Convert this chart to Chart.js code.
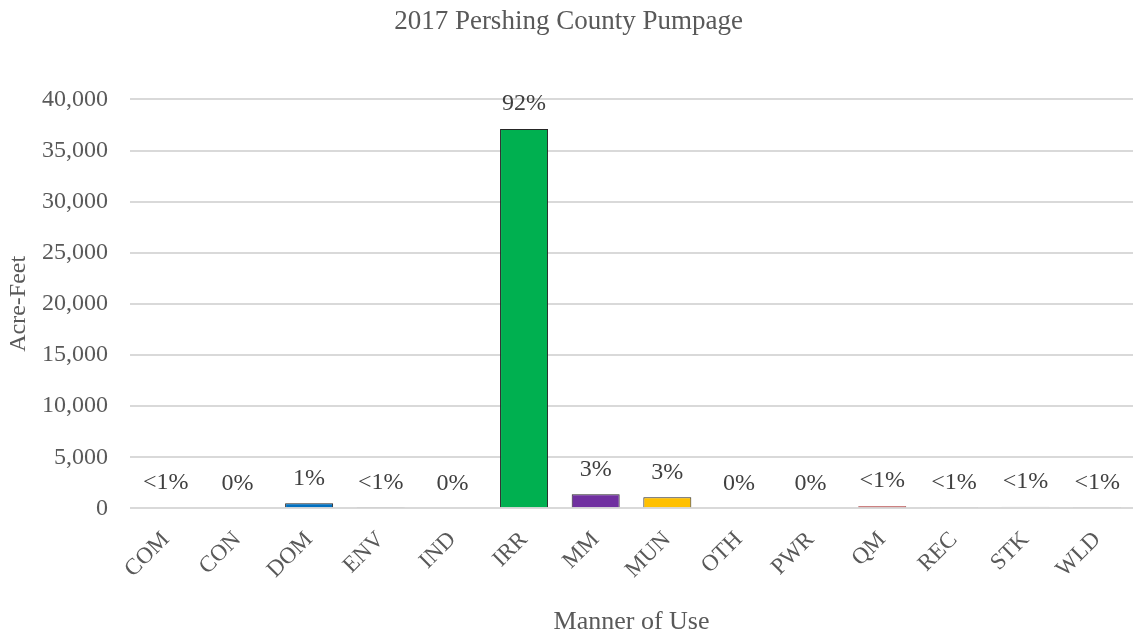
<!DOCTYPE html>
<html>
<head>
<meta charset="utf-8">
<script src="https://cdn.jsdelivr.net/npm/chart.js@4.4.0/dist/chart.umd.min.js"></script>
<style>
  html, body { margin: 0; padding: 0; background: #fff; }
  #wrap { width: 1133px; height: 637px; }
</style>
</head>
<body>
<div id="wrap"><canvas id="pumpChart" width="1133" height="637"></canvas></div>
<script>
// categories (manner of use)
const uses = ['COM', 'CON', 'DOM', 'ENV', 'IND', 'IRR', 'MM', 'MUN', 'OTH', 'PWR', 'QM', 'REC', 'STK', 'WLD'];
// acre-feet
const acreFeet = [110, 0, 500, 60, 0, 37100, 1380, 1080, 0, 0, 210, 50, 150, 60];
// share labels shown above each bar
const shareLabels = ['<1%', '0%', '1%', '<1%', '0%', '92%', '3%', '3%', '0%', '0%', '<1%', '<1%', '<1%', '<1%'];
const yTicks = [0, 5000, 10000, 15000, 20000, 25000, 30000, 35000, 40000];

const barColors = ['#d9d9d9', '#d9d9d9', '#0070c0', '#bfbfbf', '#d9d9d9', '#00b050', '#7030a0', '#ffc000', '#d9d9d9', '#d9d9d9', '#c00000', '#d9d9d9', '#d9d9d9', '#d9d9d9'];
const edgeColors = ['#bfbfbf', '#bfbfbf', '#262626', '#bfbfbf', '#bfbfbf', '#262626', '#262626', '#262626', '#bfbfbf', '#bfbfbf', '#7f0000', '#bfbfbf', '#bfbfbf', '#bfbfbf'];

const FONT = '"Liberation Serif", "Times New Roman", serif';
const TXT = '#595959';

// draws the percentage text above every bar
const shareLabelPlugin = {
    id: 'shareLabels',
    afterDatasetsDraw(chart) {
        const ctx = chart.ctx;
        const meta = chart.getDatasetMeta(0);
        ctx.save();
        ctx.font = '24px ' + FONT;
        ctx.fillStyle = '#404040';
        ctx.textAlign = 'center';
        ctx.textBaseline = 'middle';
        meta.data.forEach((bar, i) => {
            ctx.fillText(shareLabels[i], bar.x, bar.y - 25);
        });
        ctx.restore();
    }
};

new Chart(document.getElementById('pumpChart').getContext('2d'), {
    type: 'bar',
    data: {
        labels: uses,
        datasets: [{
            data: acreFeet,
            backgroundColor: barColors,
            borderColor: edgeColors,
            borderWidth: 1,
            barPercentage: 0.67,
            categoryPercentage: 1.0
        }]
    },
    options: {
        responsive: false,
        animation: false,
        layout: { padding: { top: 6, right: 0, left: 4, bottom: -5 } },
        plugins: {
            legend: { display: false },
            tooltip: { enabled: false },
            title: {
                display: true,
                text: '2017 Pershing County Pumpage',
                color: TXT,
                font: { family: FONT, size: 27, weight: 'normal' },
                padding: { top: 0, bottom: 61 }
            }
        },
        scales: {
            x: {
                grid: { display: false },
                border: { display: false },
                ticks: {
                    color: TXT,
                    font: { family: FONT, size: 23 },
                    maxRotation: 45,
                    minRotation: 45,
                    padding: 10
                },
                title: {
                    display: true,
                    text: 'Manner of Use',
                    color: TXT,
                    font: { family: FONT, size: 26 },
                    padding: { top: 13 }
                }
            },
            y: {
                min: 0,
                max: 40000,
                afterBuildTicks(axis) {
                    axis.ticks = yTicks.map(v => ({ value: v }));
                },
                afterFit(axis) {
                    axis.width = 126;
                },
                grid: { color: '#d9d9d9', lineWidth: 2, drawTicks: false },
                border: { display: false },
                ticks: {
                    color: TXT,
                    font: { family: FONT, size: 24 },
                    padding: 22,
                    callback: v => v.toLocaleString('en-US')
                },
                title: {
                    display: true,
                    text: 'Acre-Feet',
                    color: TXT,
                    font: { family: FONT, size: 24 },
                    padding: { top: 0, bottom: 0 }
                }
            }
        }
    },
    plugins: [shareLabelPlugin]
});
</script>
</body>
</html>
